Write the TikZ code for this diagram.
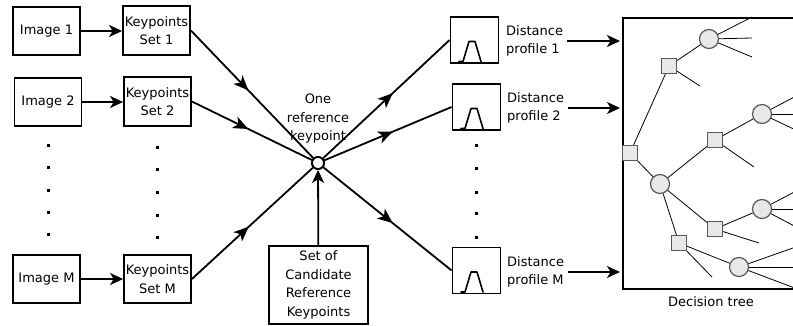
\documentclass[tikz,border=0pt]{standalone}
\usepackage{fontspec}
\setmainfont{DejaVu Sans}
\usetikzlibrary{arrows.meta,decorations.markings}
\begin{document}
\begin{tikzpicture}[x=1pt,y=-1pt,
  every node/.style={font=\fontsize{13}{18.5}\selectfont, inner sep=0pt},
  blk/.style={draw, line width=1.8pt, align=center},
  ln/.style={line width=1.8pt},
  arr/.style={ln, -{Stealth[length=13pt,width=12pt,inset=3.5pt]}},
  midarr/.style={ln, postaction={decorate}, decoration={markings, mark=at position #1 with {\arrow{Stealth[length=15pt,width=12.5pt,inset=4pt]}}}},
  prof/.style={draw, line width=1.8pt, minimum width=48pt, minimum height=46pt},
  pulse/.style={line width=1.6pt, line join=round, line cap=round},
  tsq/.style={draw=black!65, fill=black!9, line width=1.2pt, minimum size=15pt},
  tci/.style={circle, draw=black!65, fill=black!9, line width=1.2pt, minimum size=19pt},
  tl/.style={line width=0.8pt}
]
\useasboundingbox (0,0) rectangle (793,326);
\clip (0,0) rectangle (793,326);

% left column
\node[blk, minimum width=67pt, minimum height=48pt] (img1) at (46.5,31) {Image 1};
\node[blk, minimum width=67pt, minimum height=48pt] (img2) at (48,102) {Image 2};
\node[blk, minimum width=67pt, minimum height=48pt] (imgM) at (46.5,279) {Image M};
\node[blk, minimum width=67pt, minimum height=49pt] (ks1) at (156.5,30.5) {Keypoints\\Set 1};
\node[blk, minimum width=67pt, minimum height=49pt] (ks2) at (157.5,101.5) {Keypoints\\Set 2};
\node[blk, minimum width=67pt, minimum height=48pt] (ksM) at (157.5,279) {Keypoints\\Set M};

\draw[arr] (img1.east) -- (img1.east -| ks1.west);
\draw[arr] (img2.east) -- (img2.east -| ks2.west);
\draw[arr] (imgM.east) -- (imgM.east -| ksM.west);

% dots
\foreach \y in {144,166,189,211,233} \fill (46.5,\y) rectangle ++(3,3);
\foreach \y in {146,168,191,214,236} \fill (155.5,\y) rectangle ++(3,3);
\foreach \y in {144,167,191,212,236} \fill (474.5,\y) rectangle ++(3,3);

% centre
\node[circle, draw, line width=1.8pt, fill=white, minimum size=12pt] (c) at (318,163) {};
\node[align=center] (lbl) at (318,119) {One\\reference\\keypoint};
\node[blk, minimum width=99pt, minimum height=78pt] (cand) at (318.5,285) {Set of\\Candidate\\Reference\\Keypoints};

\draw[midarr=0.47] (ks1.east) -- (c);
\draw[midarr=0.47] (ks2.east) -- (c);
\draw[midarr=0.47] (ksM.east) -- (c);
\draw[arr] (cand) -- (c);
\node[circle, draw, line width=1.8pt, fill=white, minimum size=12pt] at (c) {};

% profiles
\node[prof] (p1) at (474.5,40) {};
\node[prof] (p2) at (476.5,107) {};
\node[prof] (pM) at (476.5,270.5) {};
\foreach \p in {p1,p2,pM}
  \draw[pulse] ([shift={(-15.5,21.5)}]\p.center) -- ++(4,0) -- ++(6,-20) -- ++(6,0) -- ++(6,20);

\draw[midarr=0.55] (c) -- (p1.west);
\draw[midarr=0.54] (c) -- (p2.west);
\draw[midarr=0.54] (c) -- (pM.west);

\node[align=left, anchor=west] (d1) at (506,41) {Distance\\profile 1};
\node[align=left, anchor=west] (d2) at (507,108) {Distance\\profile 2};
\node[align=left, anchor=west] (dM) at (507,272) {Distance\\profile M};

% decision tree box
\node[draw, line width=1.8pt, minimum width=228pt, minimum height=270.5pt, anchor=north west] (tree) at (622,17.5) {};
\node (dtl) at (711,302) {Decision tree};

\draw[arr, shorten <=4pt, shorten >=2pt] (d1.east) -- (d1.east -| tree.west);
\draw[arr, shorten <=4pt, shorten >=2pt] (d2.east) -- (d2.east -| tree.west);
\draw[arr, shorten <=4pt, shorten >=2pt] (dM.east) -- (dM.east -| tree.west);

% tree nodes
\node[tsq] (r) at (630,153) {};
\node[tsq] (sA) at (669,66) {};
\node[tci] (cA) at (709,39) {};
\node[tci] (cB) at (660,184) {};
\node[tsq] (sC) at (715,140) {};
\node[tci] (cC) at (762,114) {};
\node[tsq] (sD) at (715,229) {};
\node[tci] (cD) at (762,209) {};
\node[tsq] (sE) at (679,243) {};
\node[tci] (cE) at (739,267) {};

% leaves
\coordinate (lA1) at (752,17);
\coordinate (lA2) at (752,38);
\coordinate (lA3) at (752,57);
\coordinate (lsA) at (700,86);
\coordinate (lsC) at (754,167);
\coordinate (lC1) at (800,94);
\coordinate (lC2) at (800,114);
\coordinate (lC3) at (800,132);
\coordinate (lsD) at (759,243);
\coordinate (lD1) at (800,189);
\coordinate (lD2) at (800,209);
\coordinate (lD3) at (800,229);
\coordinate (lsE) at (712,277);
\coordinate (lE1) at (800,245.5);
\coordinate (lE2) at (800,267);
\coordinate (lE3) at (800,290);

\draw[tl] (r) -- (sA);
\draw[tl] (r) -- (cB);
\draw[tl] (sA) -- (cA);
\draw[tl] (sA) -- (lsA);
\draw[tl] (cA) -- (lA1);
\draw[tl] (cA) -- (lA2);
\draw[tl] (cA) -- (lA3);
\draw[tl] (cB) -- (sC);
\draw[tl] (cB) -- (sD);
\draw[tl] (cB) -- (sE);
\draw[tl] (sC) -- (cC);
\draw[tl] (sC) -- (lsC);
\draw[tl] (cC) -- (lC1);
\draw[tl] (cC) -- (lC2);
\draw[tl] (cC) -- (lC3);
\draw[tl] (sD) -- (cD);
\draw[tl] (sD) -- (lsD);
\draw[tl] (cD) -- (lD1);
\draw[tl] (cD) -- (lD2);
\draw[tl] (cD) -- (lD3);
\draw[tl] (sE) -- (cE);
\draw[tl] (sE) -- (lsE);
\draw[tl] (cE) -- (lE1);
\draw[tl] (cE) -- (lE2);
\draw[tl] (cE) -- (lE3);
\end{tikzpicture}
\end{document}
